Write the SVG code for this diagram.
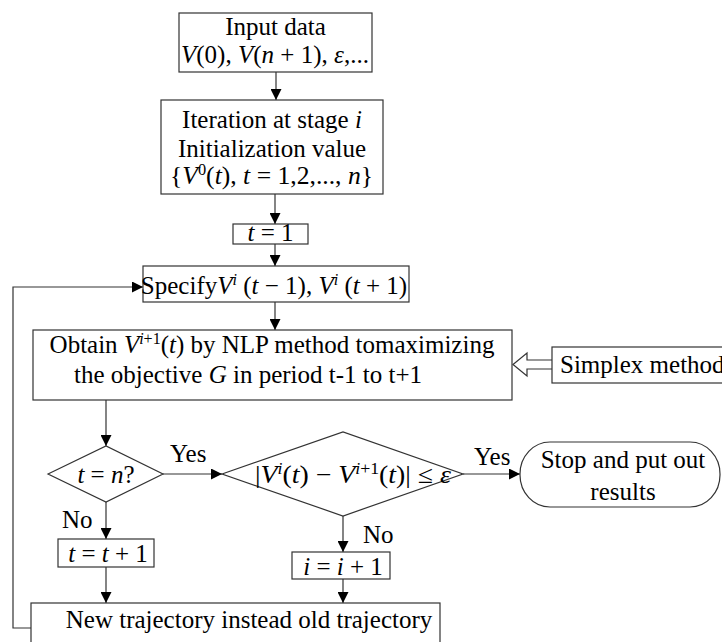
<svg xmlns="http://www.w3.org/2000/svg" width="722" height="642" viewBox="0 0 722 642">
  <defs>
    <marker id="arrow" viewBox="0 0 10 10" refX="10" refY="5" markerWidth="11" markerHeight="11" markerUnits="userSpaceOnUse" orient="auto">
      <path d="M0,0 L10,5 L0,10 z" fill="#000"/>
    </marker>
    <style>
      .box { fill: #fff; stroke: #333; stroke-width: 1.2; }
      .arr { fill: none; stroke: #333; stroke-width: 1.2; marker-end: url(#arrow); }
      text { font-family: "Liberation Serif", "Times New Roman", serif; font-size: 25px; fill: #000; }
      .c { text-anchor: middle; }
      .i { font-style: italic; }
      .sup { font-size: 16px; }
    </style>
  </defs>

  <rect width="722" height="642" fill="#fff"/>

  <!-- connectors -->
  <g id="connectors">
    <line class="arr" x1="276" y1="72" x2="276" y2="100"/>
    <line class="arr" x1="275" y1="194" x2="275" y2="224"/>
    <line class="arr" x1="275" y1="244" x2="275" y2="266"/>
    <line class="arr" x1="275" y1="302" x2="275" y2="330"/>
    <line class="arr" x1="106" y1="400" x2="106" y2="446"/>
    <line class="arr" x1="163" y1="474" x2="222" y2="474"/>
    <line class="arr" x1="463" y1="474" x2="520" y2="474"/>
    <line class="arr" x1="106" y1="502" x2="106" y2="539"/>
    <line class="arr" x1="343" y1="516" x2="343" y2="552"/>
    <line class="arr" x1="106" y1="567" x2="106" y2="603"/>
    <line class="arr" x1="343" y1="579" x2="343" y2="603"/>
    <polyline class="arr" points="31,628 13,628 13,287 143,287"/>
    <!-- hollow arrow from simplex method -->
    <path d="M552,360 L527,360 L527,353 L513,364.5 L527,376 L527,369 L552,369" fill="#fff" stroke="#333" stroke-width="1.2"/>
    <text x="170" y="462">Yes</text>
    <text x="474" y="465">Yes</text>
    <text x="62" y="528">No</text>
    <text x="363" y="543">No</text>
  </g>

  <g id="input">
    <rect class="box" x="179" y="13" width="193" height="59"/>
    <text class="c" x="275.5" y="35">Input data</text>
    <text x="181" y="63" textLength="188" lengthAdjust="spacingAndGlyphs"><tspan class="i">V</tspan>(0), <tspan class="i">V</tspan>(<tspan class="i">n</tspan> + 1), <tspan class="i">ε</tspan>,...</text>
  </g>

  <g id="init">
    <rect class="box" x="161" y="100" width="222" height="94"/>
    <text class="c" x="272" y="128">Iteration at stage <tspan class="i">i</tspan></text>
    <text class="c" x="272" y="157">Initialization value</text>
    <text x="170" y="184" textLength="203" lengthAdjust="spacingAndGlyphs">{<tspan class="i">V</tspan><tspan class="sup" dy="-9">0</tspan><tspan dy="9">(</tspan><tspan class="i">t</tspan>), <tspan class="i">t</tspan> = 1,2,..., <tspan class="i">n</tspan>}</text>
  </g>

  <g id="t1">
    <rect class="box" x="233" y="224" width="75" height="20"/>
    <text class="c" x="270.5" y="241"><tspan class="i">t</tspan> = 1</text>
  </g>

  <g id="specify">
    <rect class="box" x="143" y="266" width="266" height="36"/>
    <text class="c" x="274" y="294">Specify<tspan class="i">V</tspan><tspan class="sup i" dy="-9">i</tspan><tspan dy="9"> (</tspan><tspan class="i">t</tspan> − 1), <tspan class="i">V</tspan><tspan class="sup i" dy="-9">i</tspan><tspan dy="9"> (</tspan><tspan class="i">t</tspan> + 1)</text>
  </g>

  <g id="obtain">
    <rect class="box" x="33" y="330" width="479" height="70"/>
    <text class="c" x="272" y="353">Obtain <tspan class="i">V</tspan><tspan class="sup i" dy="-9">i</tspan><tspan class="sup">+1</tspan><tspan dy="9">(</tspan><tspan class="i">t</tspan>) by NLP method tomaximizing</text>
    <text class="c" x="248" y="383">the objective <tspan class="i">G</tspan> in period t-1 to t+1</text>
  </g>

  <g id="simplex">
    <rect class="box" x="552" y="347" width="180" height="36"/>
    <text x="560" y="373">Simplex method</text>
  </g>

  <g id="check-t">
    <polygon class="box" points="48,474 106,446 163,474 106,502"/>
    <text class="c" x="106" y="483"><tspan class="i">t</tspan> = <tspan class="i">n</tspan>?</text>
  </g>

  <g id="check-eps">
    <polygon class="box" points="222,474 343,432 463,474 343,516"/>
    <text x="255" y="483" textLength="196" lengthAdjust="spacingAndGlyphs">|<tspan class="i">V</tspan><tspan class="sup i" dy="-9">i</tspan><tspan dy="9">(</tspan><tspan class="i">t</tspan>) − <tspan class="i">V</tspan><tspan class="sup i" dy="-9">i</tspan><tspan class="sup">+1</tspan><tspan dy="9">(</tspan><tspan class="i">t</tspan>)| ≤ <tspan class="i">ε</tspan></text>
  </g>

  <g id="stop">
    <rect class="box" x="520" y="442" width="200" height="65" rx="30" ry="32"/>
    <text class="c" x="623" y="468">Stop and put out</text>
    <text class="c" x="623" y="500">results</text>
  </g>

  <g id="t-inc">
    <rect class="box" x="58" y="539" width="96" height="28"/>
    <text class="c" x="108" y="562"><tspan class="i">t</tspan> = <tspan class="i">t</tspan> + 1</text>
  </g>

  <g id="i-inc">
    <rect class="box" x="292" y="552" width="98" height="27"/>
    <text class="c" x="343" y="575"><tspan class="i">i</tspan> = <tspan class="i">i</tspan> + 1</text>
  </g>

  <g id="new-trajectory">
    <rect class="box" x="31" y="603" width="409" height="50"/>
    <text class="c" x="249" y="628">New trajectory instead old trajectory</text>
  </g>
</svg>
